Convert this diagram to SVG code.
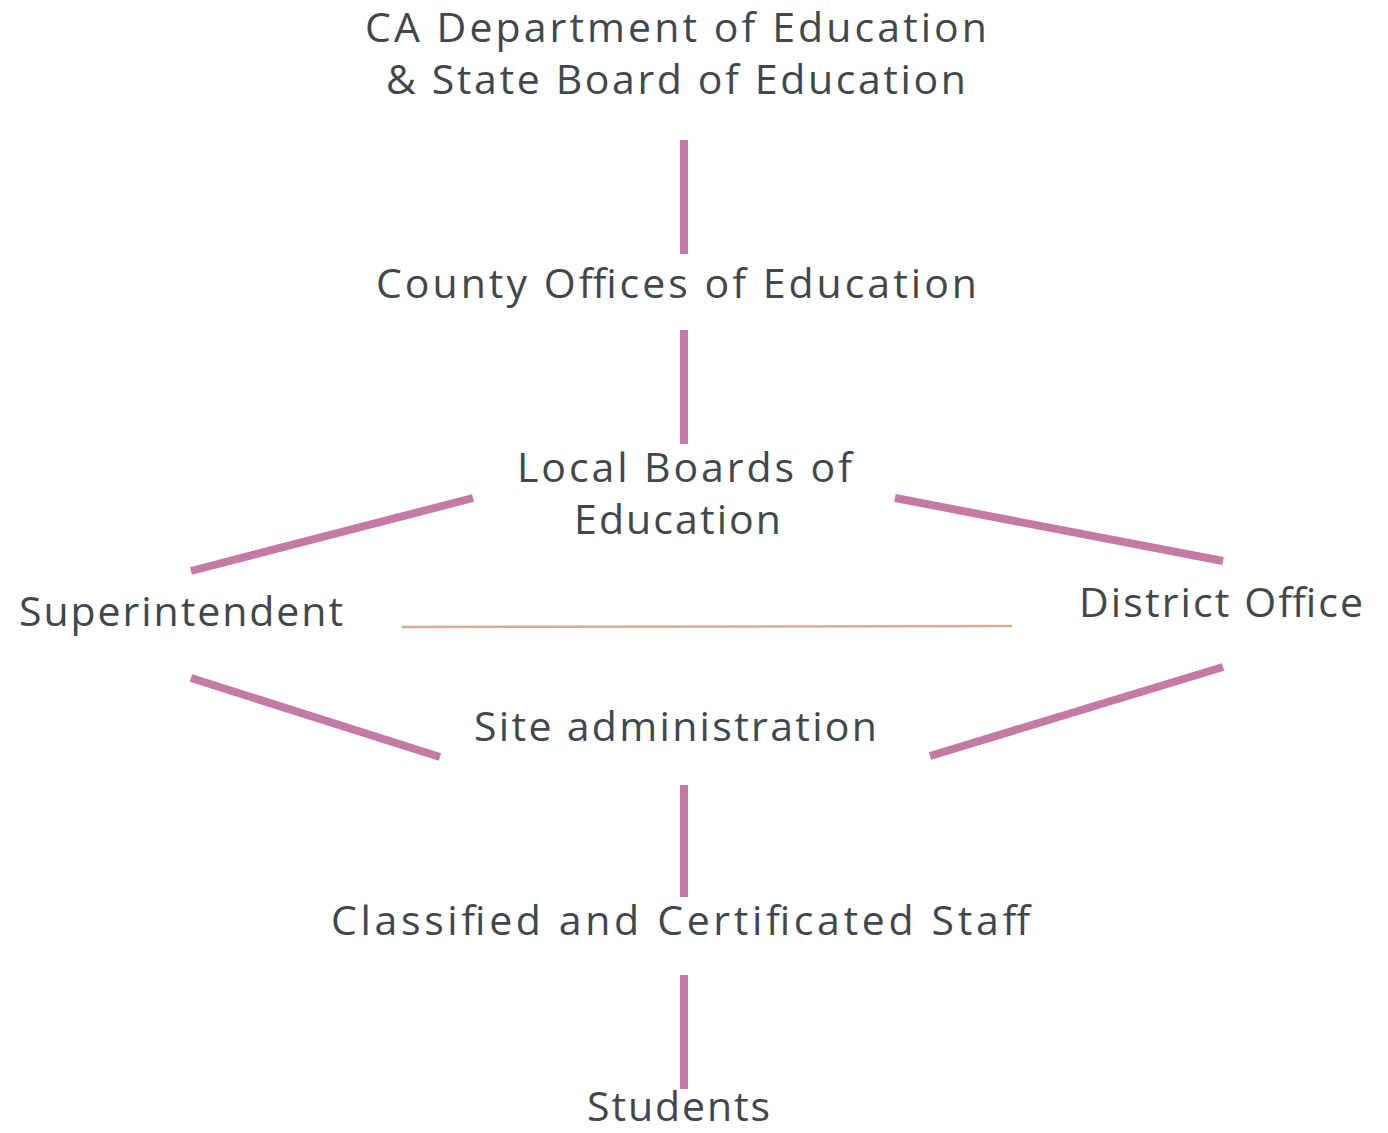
<svg xmlns="http://www.w3.org/2000/svg" width="1388" height="1133" viewBox="0 0 1388 1133">
<style>
  .t { font-family: "Open Sans", "Noto Sans", "DejaVu Sans", sans-serif; font-size: 41px; fill: #41474b; }
  .c { stroke: #c47aa4; stroke-width: 8; fill: none; stroke-linecap: butt; }
  .thin { stroke: #d3ac9a; stroke-width: 2.5; fill: none; }
</style>
<rect width="1388" height="1133" fill="#ffffff"/>
<g id="connectors">
  <line class="c" x1="684" y1="140" x2="684" y2="254"/>
  <line class="c" x1="684" y1="330" x2="684" y2="444"/>
  <line class="c" x1="473" y1="498" x2="191" y2="571"/>
  <line class="c" x1="895" y1="498" x2="1223" y2="561"/>
  <line class="thin" x1="402" y1="627" x2="1012" y2="626"/>
  <line class="c" x1="191" y1="678" x2="440" y2="757"/>
  <line class="c" x1="930" y1="756" x2="1223" y2="667"/>
  <line class="c" x1="684" y1="785" x2="684" y2="897"/>
  <line class="c" x1="684" y1="975" x2="684" y2="1089"/>
</g>
<g id="node-ca-dept">
  <text class="t" x="365" y="42" textLength="622" lengthAdjust="spacing">CA Department of Education</text>
  <text class="t" x="386" y="94" textLength="580" lengthAdjust="spacing">&amp; State Board of Education</text>
</g>
<g id="node-county">
  <text class="t" x="376" y="298" textLength="601" lengthAdjust="spacing">County Offices of Education</text>
</g>
<g id="node-local-boards">
  <text class="t" x="517" y="482" textLength="335" lengthAdjust="spacing">Local Boards of</text>
  <text class="t" x="574" y="534" textLength="207" lengthAdjust="spacing">Education</text>
</g>
<g id="node-superintendent">
  <text class="t" x="19" y="626" textLength="324" lengthAdjust="spacing">Superintendent</text>
</g>
<g id="node-district-office">
  <text class="t" x="1079" y="617" textLength="284" lengthAdjust="spacing">District Office</text>
</g>
<g id="node-site-admin">
  <text class="t" x="474" y="741" textLength="403" lengthAdjust="spacing">Site administration</text>
</g>
<g id="node-staff">
  <text class="t" x="331" y="935" textLength="699" lengthAdjust="spacing">Classified and Certificated Staff</text>
</g>
<g id="node-students">
  <text class="t" x="587" y="1121" textLength="183" lengthAdjust="spacing">Students</text>
</g>
</svg>
